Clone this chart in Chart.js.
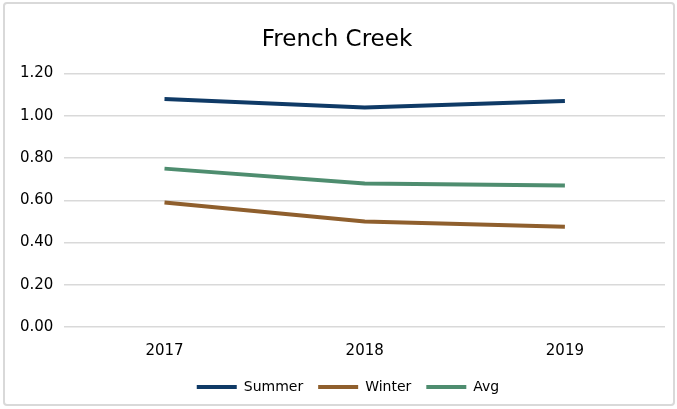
<!DOCTYPE html>
<html>
<head>
<meta charset="utf-8">
<script src="https://cdn.jsdelivr.net/npm/chart.js@4"></script>
<style>
  html, body { margin: 0; padding: 0; background: #fff; }
  #wrap {
    position: absolute; left: 3px; top: 2px;
    width: 672px; height: 404px;
    border: 2px solid #d9d9d9; border-radius: 4px;
    box-sizing: border-box;
  }
  #myChart { position: absolute; left: 0; top: 0; }
</style>
</head>
<body>
<div id="wrap"></div>
<canvas id="myChart" width="677" height="409"></canvas>
<script>
const years = ["2017", "2018", "2019"]
const summer = [1.08, 1.04, 1.07]
const winter = [0.59, 0.50, 0.475]
const avg = [0.75, 0.68, 0.67]
const yMin = 0
const yMax = 1.2
const yStep = 0.2

const font = "'DejaVu Sans', sans-serif"

function makeSet(label, data, color) {
  return {
    label: label,
    data: data,
    borderColor: color,
    backgroundColor: color,
    borderWidth: 4,
    pointRadius: 0,
    tension: 0,
  }
}

// move the legend a little: down toward the bottom edge and right of centre
const legendShift = {
  id: "legendShift",
  afterLayout(chart) {
    const dy = -2
    const dx = 11
    chart.legend.top += dy
    chart.legend.bottom += dy
    chart.legend.left += dx
    chart.legend.right += dx
  },
}

const ctx = document.getElementById("myChart")

new Chart(ctx, {
  type: "line",
  data: {
    labels: years,
    datasets: [
      makeSet("Summer", summer, "#0f3a66"),
      makeSet("Winter", winter, "#8f5f2d"),
      makeSet("Avg", avg, "#4e8d6f"),
    ],
  },
  options: {
    responsive: false,
    animation: false,
    layout: { padding: { left: 9, right: 12, top: 20, bottom: 3 } },
    plugins: {
      title: {
        display: true,
        text: "French Creek",
        color: "#000",
        font: { family: font, size: 23, weight: "normal" },
        padding: { top: 6, bottom: 20 },
      },
      legend: {
        position: "bottom",
        labels: {
          usePointStyle: true,
          pointStyle: "line",
          pointStyleWidth: 40,
          color: "#000",
          font: { family: font, size: 14 },
          padding: 15,
        },
      },
      tooltip: { enabled: false },
    },
    scales: {
      x: {
        offset: true,
        grid: { display: false },
        border: { display: false },
        ticks: { color: "#000", font: { family: font, size: 15 }, padding: 7 },
      },
      y: {
        min: yMin,
        max: yMax,
        grid: { color: "#d9d9d9", lineWidth: 1.5, drawTicks: false },
        border: { display: false },
        ticks: {
          stepSize: yStep,
          color: "#000",
          font: { family: font, size: 15 },
          padding: 11,
          callback: (v) => v.toFixed(2),
        },
      },
    },
  },
  plugins: [legendShift],
})
</script>
</body>
</html>
